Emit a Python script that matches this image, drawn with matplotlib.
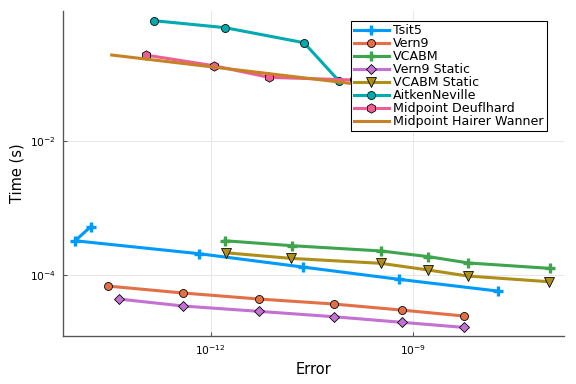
import numpy as np
import matplotlib
matplotlib.use("Agg")
import matplotlib.pyplot as plt
from matplotlib.ticker import FixedLocator, NullLocator

# work-precision data (error, time in seconds)
tsit5_err = [1.65e-14, 9.66e-15, 6.78e-13, 2.32e-11, 6.27e-10, 1.83e-8]
tsit5_t = [5.31e-4, 3.28e-4, 2.10e-4, 1.33e-4, 8.71e-5, 5.83e-5]

vern9_err = [2.95e-14, 3.84e-13, 5.21e-12, 6.78e-11, 6.87e-10, 5.78e-9]
vern9_t = [6.92e-5, 5.45e-5, 4.43e-5, 3.73e-5, 3.03e-5, 2.47e-5]

vcabm_err = [1.63e-12, 1.60e-11, 3.38e-10, 1.71e-9, 6.70e-9, 1.09e-7]
vcabm_t = [3.28e-4, 2.77e-4, 2.31e-4, 1.90e-4, 1.53e-4, 1.27e-4]

vern9s_err = [4.31e-14, 3.92e-13, 5.21e-12, 6.78e-11, 6.87e-10, 5.78e-9]
vern9s_t = [4.43e-5, 3.48e-5, 2.90e-5, 2.41e-5, 1.99e-5, 1.67e-5]

vcabms_err = [1.69e-12, 1.56e-11, 3.38e-10, 1.71e-9, 6.56e-9, 1.07e-7]
vcabms_t = [2.17e-4, 1.79e-4, 1.51e-4, 1.20e-4, 9.77e-5, 8.02e-5]

aitken_err = [1.44e-13, 1.63e-12, 2.43e-11, 8.05e-11]
aitken_t = [0.631, 0.497, 0.296, 0.0794]

deuf_err = [1.08e-13, 1.12e-12, 7.35e-12, 1.36e-10]
deuf_t = [0.194, 0.134, 0.0901, 0.0822]

hw_err = [3.39e-14, 1.12e-12, 1.54e-10, 4.0e-10]
hw_t = [0.194, 0.128, 0.0710, 0.0640]

fig = plt.figure(figsize=(6, 4), dpi=96)
ax = fig.add_axes([0.1089, 0.1242, 0.8708, 0.8472])

lw = 2.3
ms = 6
ax.plot(tsit5_err, tsit5_t, color="#009AFA", lw=lw, marker="+", ms=7, mew=2.5, label="Tsit5")
ax.plot(vern9_err, vern9_t, color="#E36F47", lw=lw, marker="o", ms=ms, mec="black", mew=0.6, label="Vern9")
ax.plot(vcabm_err, vcabm_t, color="#3EA44E", lw=lw, marker="+", ms=7, mew=2.5, label="VCABM")
ax.plot(vern9s_err, vern9s_t, color="#C371D2", lw=lw, marker="D", ms=5, mec="black", mew=0.6, label="Vern9 Static")
ax.plot(vcabms_err, vcabms_t, color="#AC8E18", lw=lw, marker="v", ms=7, mec="black", mew=0.6, label="VCABM Static")
ax.plot(aitken_err, aitken_t, color="#00AAAE", lw=lw, marker="o", ms=ms, mec="black", mew=0.6, label="AitkenNeville")
ax.plot(deuf_err, deuf_t, color="#ED5E93", lw=lw, marker="h", ms=ms + 1, mec="black", mew=0.6, label="Midpoint Deuflhard")
ax.plot(hw_err, hw_t, color="#C68225", lw=lw, label="Midpoint Hairer Wanner")

ax.set_xscale("log")
ax.set_yscale("log")
ax.set_xlim(10**-14.198, 10**-6.748)
ax.set_ylim(10**-4.910, 10**-0.055)

ax.xaxis.set_major_locator(FixedLocator([1e-12, 1e-9]))
ax.yaxis.set_major_locator(FixedLocator([1e-4, 1e-2]))
ax.xaxis.set_minor_locator(NullLocator())
ax.yaxis.set_minor_locator(NullLocator())

ax.grid(True, color="#e6e6e6", lw=0.7)
ax.set_axisbelow(True)
for s in ["top", "right"]:
    ax.spines[s].set_visible(False)
for s in ["left", "bottom"]:
    ax.spines[s].set_color("#555555")
    ax.spines[s].set_linewidth(1.0)
ax.tick_params(direction="in", length=3, labelsize=8, color="#555555", pad=5)

ax.set_xlabel("Error", fontsize=11)
ax.set_ylabel("Time (s)", fontsize=11)

leg = ax.legend(loc="upper right", bbox_to_anchor=(0.9655, 0.969), fontsize=9.5, frameon=True,
                fancybox=False, edgecolor="black", framealpha=1, handlelength=2.8,
                labelspacing=0.0, borderpad=0.25, handletextpad=0.32, borderaxespad=0)
leg.get_frame().set_linewidth(0.8)

fig.savefig("out.png", dpi=96)
